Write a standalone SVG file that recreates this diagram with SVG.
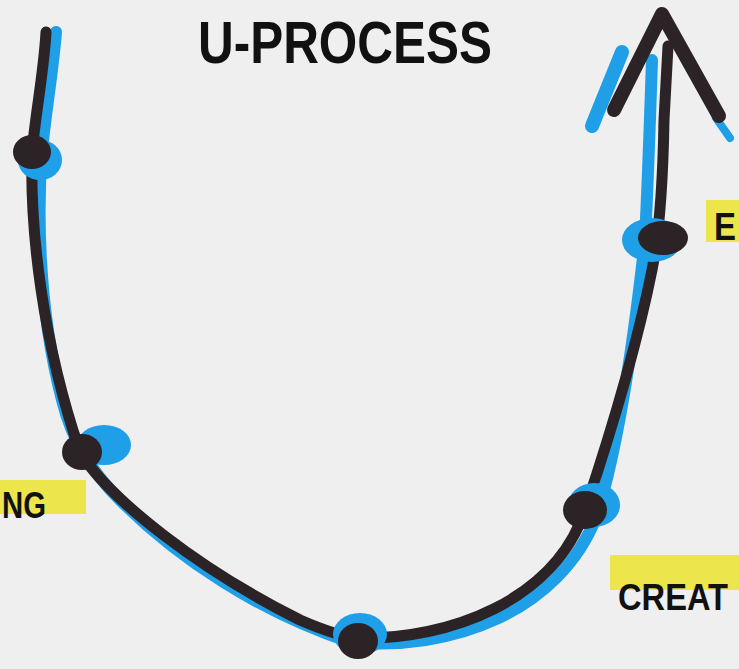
<svg xmlns="http://www.w3.org/2000/svg" width="739" height="669" viewBox="0 0 739 669">
<style>
.blue{fill:none;stroke:#1f9fe8;stroke-linecap:round;stroke-linejoin:round}
.ink{fill:none;stroke:#2b2326;stroke-linecap:round;stroke-linejoin:round}
.halo{fill:#1f9fe8}
.knot{fill:#2b2326}
.hl{fill:#ece33a;opacity:0.9}
.lbl{font-family:"Liberation Sans",Arial,sans-serif;font-weight:bold;fill:#111}
</style>
<rect width="739" height="669" fill="#efefef"/>
<text class="lbl" x="198" y="63" font-size="60" textLength="294" lengthAdjust="spacingAndGlyphs">U-PROCESS</text>
<g id="connectors">
<path class="blue" stroke-width="12" d="M 56 32 C 53 70, 46 110, 42 150 C 38 200, 36 300, 62 400 C 72 440, 90 470, 120 500 C 180 560, 260 612, 350 642 C 450 652, 560 612, 597 515 C 620 440, 635 330, 645 240 C 648 180, 650 120, 652 60"/>
<path class="blue" stroke-width="14" d="M 622 52 L 592 126"/>
<path class="blue" stroke-width="8" d="M 716 118 L 730 138"/>
<path class="ink" stroke-width="11" d="M 46 32 C 44 70, 36 110, 32 152 C 30 230, 42 340, 80 452 C 110 500, 200 570, 300 620 C 330 633, 345 637, 358 638 C 450 640, 555 600, 585 510 C 615 420, 640 330, 652 270 C 660 230, 663 180, 664 120 L 668 46"/>
<path class="ink" stroke-width="14" d="M 614 110 L 662 14 L 719 116"/>
</g>
<g id="node-1"><ellipse class="halo" cx="40" cy="160" rx="22" ry="20"/><ellipse class="knot" cx="32" cy="152" rx="19" ry="17"/></g>
<g id="node-2"><ellipse class="halo" cx="104" cy="445" rx="27" ry="20"/><ellipse class="knot" cx="82" cy="452" rx="20" ry="18"/></g>
<g id="node-3"><ellipse class="halo" cx="360" cy="634" rx="27" ry="21"/><ellipse class="knot" cx="358" cy="641" rx="20" ry="18"/></g>
<g id="node-4"><ellipse class="halo" cx="594" cy="505" rx="26" ry="22"/><ellipse class="knot" cx="585" cy="510" rx="22" ry="19"/></g>
<g id="node-5"><ellipse class="halo" cx="652" cy="240" rx="30" ry="22"/><ellipse class="knot" cx="663" cy="238" rx="25" ry="17"/></g>
<g id="label-left"><rect class="hl" x="0" y="480" width="86" height="34"/><text class="lbl" x="2" y="518" font-size="36" textLength="44" lengthAdjust="spacingAndGlyphs">NG</text></g>
<g id="label-bottom-right"><rect class="hl" x="610" y="555" width="129" height="35"/><text class="lbl" x="618" y="610" font-size="36" textLength="110" lengthAdjust="spacingAndGlyphs">CREAT</text></g>
<g id="label-top-right"><rect class="hl" x="706" y="200" width="33" height="42"/><text class="lbl" x="714" y="240" font-size="38" textLength="22" lengthAdjust="spacingAndGlyphs">E</text></g>
</svg>
